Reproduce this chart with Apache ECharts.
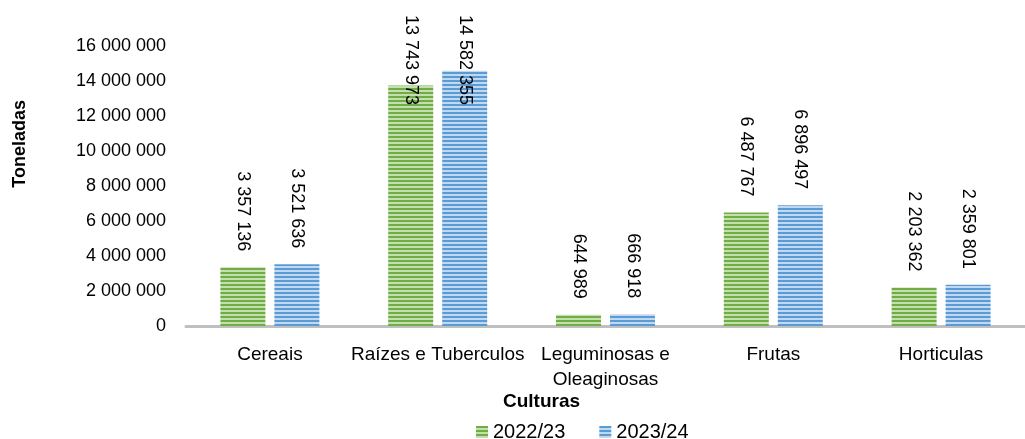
<!DOCTYPE html>
<html>
<head>
<meta charset="utf-8">
<script src="https://cdn.jsdelivr.net/npm/echarts@6/dist/echarts.min.js"></script>
<style>
  html, body { margin: 0; padding: 0; background: #fff; }
  #chart { width: 1025px; height: 439px; }
</style>
</head>
<body>
<div id="chart"></div>
<script>
  // dados
  const culturas = ['Cereais', 'Raízes e Tuberculos', 'Leguminosas e\nOleaginosas', 'Frutas', 'Horticulas']
  const safra2223 = [3357136, 13743973, 644989, 6487767, 2203362]
  const safra2324 = [3521636, 14582355, 666918, 6896497, 2359801]
  const seriesNames = ['2022/23', '2023/24']

  const FONT = '"Liberation Sans", Arial, sans-serif'
  const LABEL_TOP = 15 // limite superior dos rótulos (como no Excel)

  const fmt = v => String(Math.round(v)).replace(/\B(?=(\d{3})+(?!\d))/g, ' ')

  // listras horizontais
  function stripes(dark, light) {
    const c = document.createElement('canvas')
    c.width = 4
    c.height = 4
    const ctx = c.getContext('2d')
    ctx.fillStyle = light
    ctx.fillRect(0, 0, 4, 4)
    ctx.fillStyle = dark
    ctx.fillRect(0, 0, 4, 2)
    return { image: c, repeat: 'repeat' }
  }

  const green = stripes('#70ad47', '#c3dfae')
  const blue = stripes('#5b9bd5', '#c0d9f0')

  const barLabel = {
    show: true,
    position: 'top',
    distance: 16,
    rotate: -90,
    align: 'right',
    verticalAlign: 'middle',
    color: '#000',
    fontFamily: FONT,
    fontSize: 18,
    formatter: p => fmt(p.value),
  }

  const chart = echarts.init(document.getElementById('chart'))
  chart.setOption({
    animation: false,
    textStyle: { fontFamily: FONT },
    grid: { left: 186, right: -13, top: 46, bottom: 113 },
    legend: {
      data: seriesNames,
      left: 476,
      top: 422,
      padding: 0,
      itemWidth: 12,
      itemHeight: 12,
      itemGap: 34,
      icon: 'rect',
      textStyle: { color: '#000', fontSize: 20, fontFamily: FONT },
    },
    graphic: [
      { type: 'text', left: 11, top: 100, rotation: Math.PI / 2, style: { text: 'Toneladas', font: 'bold 18px ' + FONT, fill: '#000' } },
      { type: 'text', left: 503, top: 392, style: { text: 'Culturas', font: 'bold 19px ' + FONT, fill: '#000' } },
    ],
    xAxis: {
      type: 'category',
      data: culturas,
      axisLine: { lineStyle: { color: '#bfbfbf', width: 3 } },
      axisTick: { show: false },
      axisLabel: { color: '#000', fontSize: 19, margin: 16, lineHeight: 25, interval: 0 },
      splitLine: { show: false },
    },
    yAxis: {
      type: 'value',
      min: 0,
      max: 16000000,
      interval: 2000000,
      axisLine: { show: false },
      axisTick: { show: false },
      splitLine: { show: false },
      axisLabel: { color: '#000', fontSize: 18, margin: 20, formatter: v => fmt(v) },
    },
    labelLayout: p => {
      const len = Math.max(p.labelRect.width, p.labelRect.height)
      if (p.rect.y - barLabel.distance - len < LABEL_TOP) {
        return { x: p.rect.x + p.rect.width / 2, y: LABEL_TOP, align: 'left', verticalAlign: 'middle', rotate: -90 }
      }
    },
    series: [
      { name: seriesNames[0], type: 'bar', data: safra2223, barWidth: 45, barGap: '20%', itemStyle: { color: green }, label: barLabel },
      { name: seriesNames[1], type: 'bar', data: safra2324, barWidth: 45, barGap: '20%', itemStyle: { color: blue }, label: barLabel },
    ],
  })
</script>
</body>
</html>
